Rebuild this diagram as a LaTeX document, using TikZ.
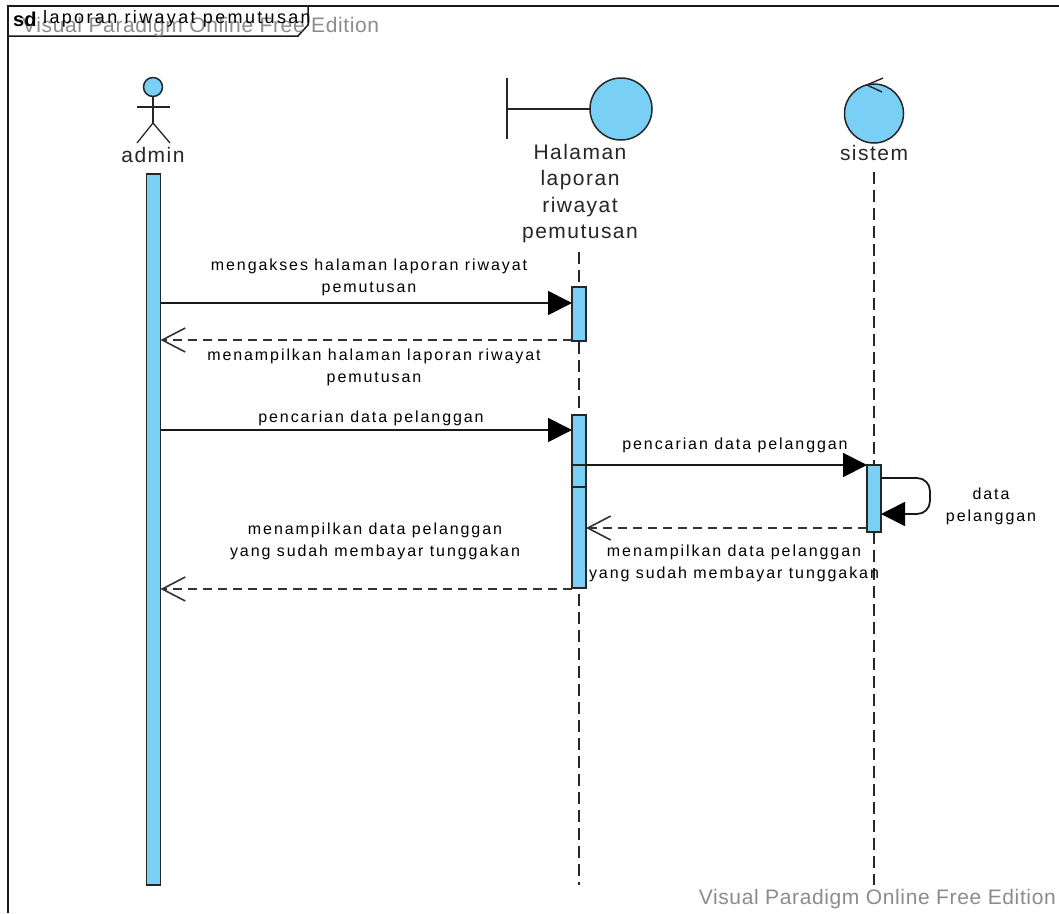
\documentclass[tikz,border=0pt]{standalone}
\usepackage{fontspec}
\setmainfont{Liberation Sans}
\newfontfamily\msgfont[LetterSpace=12]{Liberation Sans}
\newfontfamily\namefont[LetterSpace=7]{Liberation Sans}
\newfontfamily\titlefont[LetterSpace=13]{Liberation Sans}
\newfontfamily\markfont[LetterSpace=3]{Liberation Sans}
\usetikzlibrary{arrows.meta}

\definecolor{fillblue}{RGB}{122,207,245}
\definecolor{markgray}{RGB}{140,140,140}

\tikzset{
  activation/.style={draw=black!85, fill=fillblue, line width=1.5pt, minimum width=14pt, inner sep=0pt, outer sep=0pt},
  roundfig/.style={circle, draw=black!85, fill=fillblue, line width=1.5pt, inner sep=0pt, outer sep=0pt},
  lifeline/.style={draw=black!85, line width=1.4pt, dash pattern=on 12pt off 6pt},
  msg/.style={draw=black!90, line width=1.8pt, -{Triangle[length=24pt,width=24pt,color=black]}},
  reply/.style={draw=black!80, line width=1.7pt, dash pattern=on 9pt off 6pt, -{Straight Barb[length=23pt,width=24pt,line width=1.6pt]}},
  msglabel/.style={font=\msgfont\fontsize{16}{22}\selectfont, align=center, text=black, inner sep=0pt},
  namelabel/.style={font=\namefont\fontsize{21}{26.3}\selectfont, align=center, text=black!85, inner sep=0pt},
  watermark/.style={font=\markfont\fontsize{21}{24}\selectfont, text=markgray, inner sep=0pt}
}

\begin{document}
\begin{tikzpicture}[x=1pt,y=-1pt]
      \useasboundingbox (0,0) rectangle (1059,913);
      \fill[white] (0,0) rectangle (1059,913);

      % Frame and its title tab
      \draw[line width=1.5pt, black!90] (8,913) -- (8,6) -- (1059,6);
      \draw[line width=1.5pt, black!90] (8,36) -- (298,36) -- (308,25) -- (308,6);
      \node[watermark, anchor=west] (markTop) at (22,27) {Visual Paradigm Online Free Edition};
      \node[watermark, anchor=east] (markBottom) at (1056,899) {Visual Paradigm Online Free Edition};
      \node[font=\fontsize{20}{20}\selectfont\bfseries, anchor=west, inner sep=0pt] (frameKind) at (13,19) {sd};
      \node[font=\titlefont\fontsize{18}{20}\selectfont, anchor=west, inner sep=0pt] (frameName) at (43,19) {laporan riwayat pemutusan};

      % Lifelines
      \coordinate (halamanTop) at (579,252);
      \coordinate (halamanEnd) at (579,885);
      \coordinate (sistemTop) at (874,172);
      \coordinate (sistemEnd) at (874,885);
      \draw[lifeline] (halamanTop) -- (halamanEnd);
      \draw[lifeline] (sistemTop) -- (sistemEnd);

      % Actor
      \node[roundfig, minimum size=19pt] (adminHead) at (153,87) {};
      \coordinate (adminHip) at (153,123);
      \coordinate (adminArmL) at (137,107);
      \coordinate (adminArmR) at (170,107);
      \coordinate (adminFootL) at (137,143);
      \coordinate (adminFootR) at (170,143);
      \draw[line width=1.3pt, black!85] (adminHead) -- (adminHip);
      \draw[line width=1.3pt, black!85] (adminArmL) -- (adminArmR);
      \draw[line width=1.3pt, black!85] (adminFootL) -- (adminHip) -- (adminFootR);
      \node[namelabel] (adminName) at (153,155) {admin};

      % Boundary
      \node[roundfig, minimum size=62pt] (halamanCircle) at (621,109) {};
      \coordinate (barTop) at (507,78);
      \coordinate (barBottom) at (507,139);
      \coordinate (barMid) at (507,109);
      \draw[line width=1.5pt, black!85] (barTop) -- (barBottom);
      \draw[line width=1.5pt, black!85] (barMid) -- (halamanCircle);
      \node[namelabel, anchor=north] (halamanName) at (580,144) {Halaman\\laporan\\riwayat\\pemutusan};

      % Control
      \node[roundfig, minimum size=59pt] (sistemCircle) at (874,113.5) {};
      \coordinate (turnA) at (883,78);
      \coordinate (turnB) at (867,85);
      \coordinate (turnC) at (882,92);
      \draw[line width=1.4pt, black!85] (turnA) -- (turnB) -- (turnC);
      \node[namelabel] (sistemName) at (874,153) {sistem};

      % Activation bars
      \node[activation, anchor=north, minimum height=711pt] (barAdmin) at (153.5,174) {};
      \node[activation, anchor=north, minimum height=54pt] (barHalamanA) at (579,287) {};
      \node[activation, anchor=north, minimum height=173pt] (barHalamanB) at (579,415) {};
      \node[activation, anchor=north, minimum height=22pt] (barHalamanC) at (579,465) {};
      \node[activation, anchor=north, minimum height=67pt] (barSistem) at (874,465) {};

      % Messages
      \draw[msg] (barAdmin.east |- 0,303) -- (barHalamanA.west |- 0,303);
      \node[msglabel] (labelAkses) at (369,277) {mengakses halaman laporan riwayat\\pemutusan};

      \draw[reply] (barHalamanA.west |- 0,340) -- (barAdmin.east |- 0,340);
      \node[msglabel] (labelTampil) at (374,367.5) {menampilkan halaman laporan riwayat\\pemutusan};

      \draw[msg] (barAdmin.east |- 0,430) -- (barHalamanB.west |- 0,430);
      \node[msglabel] (labelCari) at (371,418) {pencarian data pelanggan};

      \draw[msg] (barHalamanB.east |- 0,465) -- (barSistem.west |- 0,465);
      \node[msglabel] (labelCariSistem) at (735,445) {pencarian data pelanggan};

      % Self message
      \draw[msg, rounded corners=13pt] (barSistem.east |- 0,478) -- (930,478) -- (930,514) -- (barSistem.east |- 0,514);
      \node[msglabel] (labelSelf) at (991,506) {data\\pelanggan};

      \draw[reply] (barSistem.west |- 0,528) -- (barHalamanB.east |- 0,528);
      \node[msglabel] (labelBalasSistem) at (734,563) {menampilkan data pelanggan\\yang sudah membayar tunggakan};

      \draw[reply] (barHalamanB.west |- 0,589) -- (barAdmin.east |- 0,589);
      \node[msglabel] (labelBalas) at (375,541) {menampilkan data pelanggan\\yang sudah membayar tunggakan};

\end{tikzpicture}
\end{document}
